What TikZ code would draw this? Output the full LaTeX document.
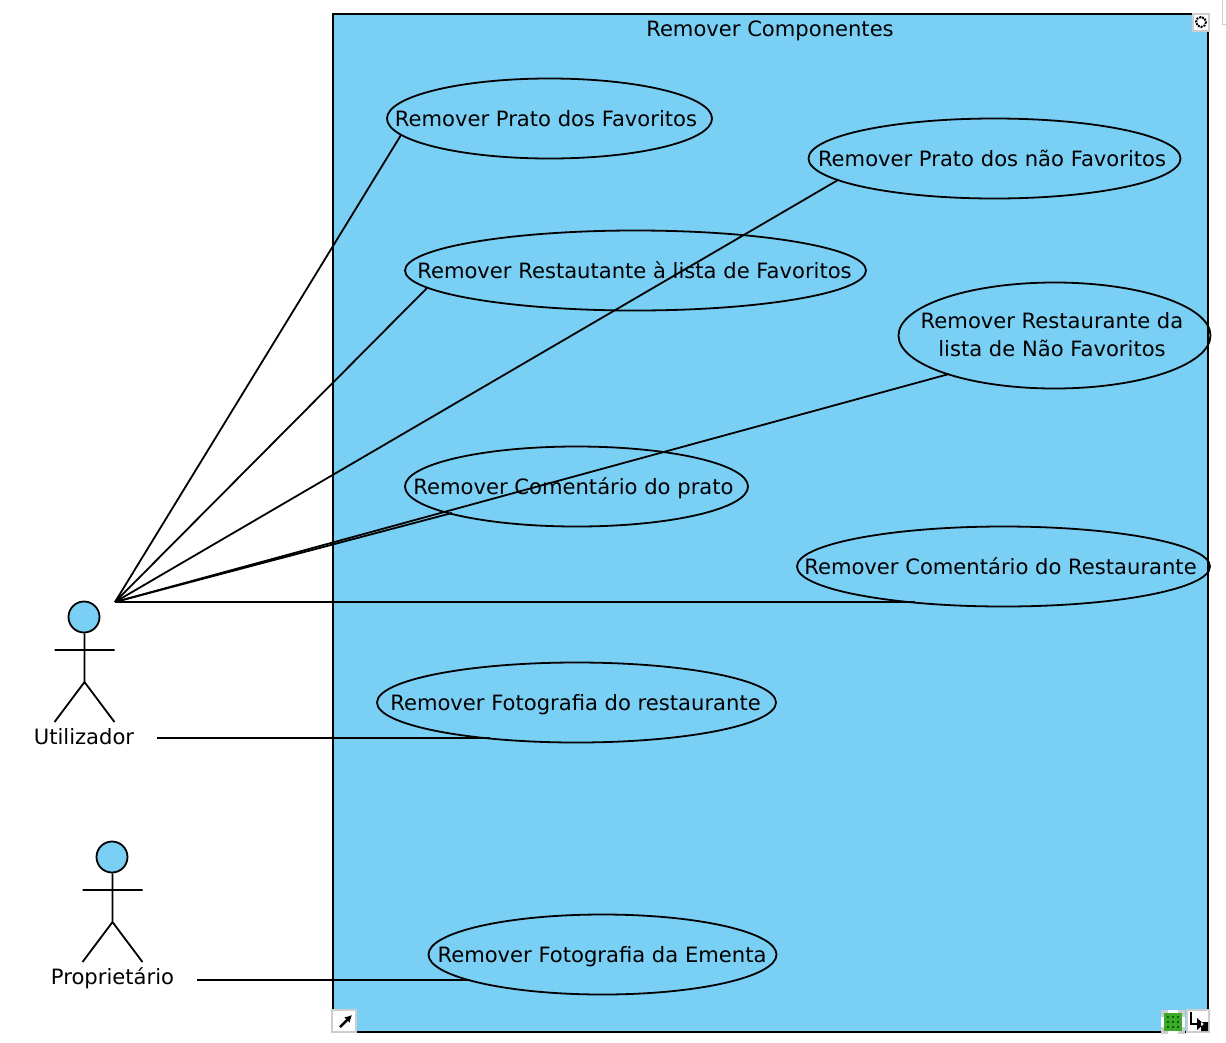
\documentclass[tikz,border=0pt]{standalone}
\usepackage{fontspec}
\setmainfont{DejaVu Sans}
\usetikzlibrary{shapes.geometric,arrows.meta}
\definecolor{ucblue}{RGB}{122,207,245}
\definecolor{icongray}{RGB}{205,205,205}
\definecolor{icongreen}{RGB}{60,170,40}
\tikzset{
  x=1pt,y=-1pt,
  every node/.style={font=\fontsize{21.1}{28}\selectfont},
  usecase/.style={ellipse,draw=black,line width=1.8pt,inner sep=0pt,align=center},
  conn/.style={draw=black,line width=1.8pt},
  stick/.style={draw=black,line width=1.8pt},
  iconbox/.style={draw=icongray,fill=white,line width=1.5pt},
  lbl/.style={inner sep=0pt,anchor=center,text height=16pt,text depth=0pt},
  lbltwo/.style={inner sep=0pt,anchor=center,align=center}
}
\begin{document}
\begin{tikzpicture}
\useasboundingbox (0,0) rectangle (1226,1042);
\draw[icongray,line width=1pt] (1222,0) -- (1222,24) -- (1226,24);
% system
\node[draw=black,fill=ucblue,line width=1.8pt,minimum width=875pt,minimum height=1018pt,inner sep=0pt] (sys) at (770.5,523) {};
\node[lbl] (systitle) at (770,28) {Remover Componentes};
% use cases
\node[usecase,minimum width=325pt,minimum height=80pt] (e1) at (549.5,118.5) {};
\node[lbl] (t1) at (546,118) {Remover Prato dos Favoritos};
\node[usecase,minimum width=372pt,minimum height=80pt] (e2) at (994.5,158.5) {};
\node[lbl] (t2) at (992,158) {Remover Prato dos não Favoritos};
\node[usecase,minimum width=461pt,minimum height=80pt] (e3) at (635.5,270.5) {};
\node[lbl] (t3) at (634.5,270) {Remover Restautante à lista de Favoritos};
\node[usecase,minimum width=312pt,minimum height=106pt] (e4) at (1054.5,335.5) {};
\node[lbltwo] (t4) at (1052,334.5) {Remover Restaurante da\\lista de Não Favoritos};
\node[usecase,minimum width=343pt,minimum height=80pt] (e5) at (576.5,486.5) {};
\node[lbl] (t5) at (573.5,486) {Remover Comentário do prato};
\node[usecase,minimum width=413pt,minimum height=80pt] (e6) at (1003.5,566.5) {};
\node[lbl] (t6) at (1000.5,566) {Remover Comentário do Restaurante};
\node[usecase,minimum width=399pt,minimum height=80pt] (e7) at (576.5,702.5) {};
\node[lbl] (t7) at (575.5,702) {Remover Fotografia do restaurante};
\node[usecase,minimum width=348pt,minimum height=80pt] (e8) at (602.5,954.5) {};
\node[lbl] (t8) at (602,954) {Remover Fotografia da Ementa};
% actors
\node[circle,draw=black,fill=ucblue,line width=1.8pt,minimum size=31pt,inner sep=0pt] (head1) at (84,617) {};
\coordinate (hip1) at (84.5,682);
\coordinate (arml1) at (54.5,650);
\coordinate (armr1) at (114.5,650);
\coordinate (legl1) at (54.5,722);
\coordinate (legr1) at (114.5,722);
\draw[stick] (head1.south -| hip1) -- (hip1) (arml1) -- (armr1) (legl1) -- (hip1) -- (legr1);
\node[lbl] (a1) at (84,736) {Utilizador};
\node[circle,draw=black,fill=ucblue,line width=1.8pt,minimum size=31pt,inner sep=0pt] (head2) at (112,857) {};
\coordinate (hip2) at (112.5,922);
\coordinate (arml2) at (82.5,890);
\coordinate (armr2) at (142.5,890);
\coordinate (legl2) at (82.5,962);
\coordinate (legr2) at (142.5,962);
\draw[stick] (head2.south -| hip2) -- (hip2) (arml2) -- (armr2) (legl2) -- (hip2) -- (legr2);
\node[lbl] (a2) at (112.5,976) {Proprietário};
% connectors
\coordinate (hub) at (115,602);
\coordinate (p1) at (401,135);
\coordinate (p2) at (838,180);
\coordinate (p3) at (427,288);
\coordinate (p4) at (949,374);
\coordinate (p5) at (452,513);
\coordinate (p6) at (915,602);
\coordinate (s7) at (157,738);
\coordinate (p7) at (490,738);
\coordinate (s8) at (197,980);
\coordinate (p8) at (470,980);
\draw[conn] (hub) -- (p1);
\draw[conn] (hub) -- (p2);
\draw[conn] (hub) -- (p3);
\draw[conn] (hub) -- (p4);
\draw[conn] (hub) -- (p5);
\draw[conn] (hub) -- (p6);
\draw[conn] (s7) -- (p7);
\draw[conn] (s8) -- (p8);
% corner icons
\draw[iconbox] (1193,14) rectangle (1209,31);
\draw[black,line width=2pt,densely dotted] (1201,22) circle (5);
\draw[iconbox] (332,1010) rectangle (356,1032);
\draw[black,line width=2.5pt,-{Latex[length=7pt,width=8pt]}] (340,1027) -- (352,1015);
\fill[icongray] (1161,1010) rectangle (1185,1034);
\fill[white] (1168,1010) rectangle (1178,1013) (1168,1031) rectangle (1178,1034) (1161,1017) rectangle (1164,1027) (1182,1017) rectangle (1185,1027);
\fill[icongreen] (1164,1013) rectangle (1182,1031);
\foreach \i in {1168,1173,1178}{\foreach \j in {1017,1022,1027}{\fill[black!60!green] (\i-1.2,\j-1.2) rectangle (\i+1.2,\j+1.2);}}
\draw[iconbox] (1187,1010) rectangle (1209,1032);
\draw[black,line width=1.8pt] (1191,1012) -- (1191,1024) -- (1199,1024);
\fill[black] (1197,1018) -- (1204,1024) -- (1197,1030) -- cycle (1201,1022) rectangle (1208,1031);
\end{tikzpicture}
\end{document}
